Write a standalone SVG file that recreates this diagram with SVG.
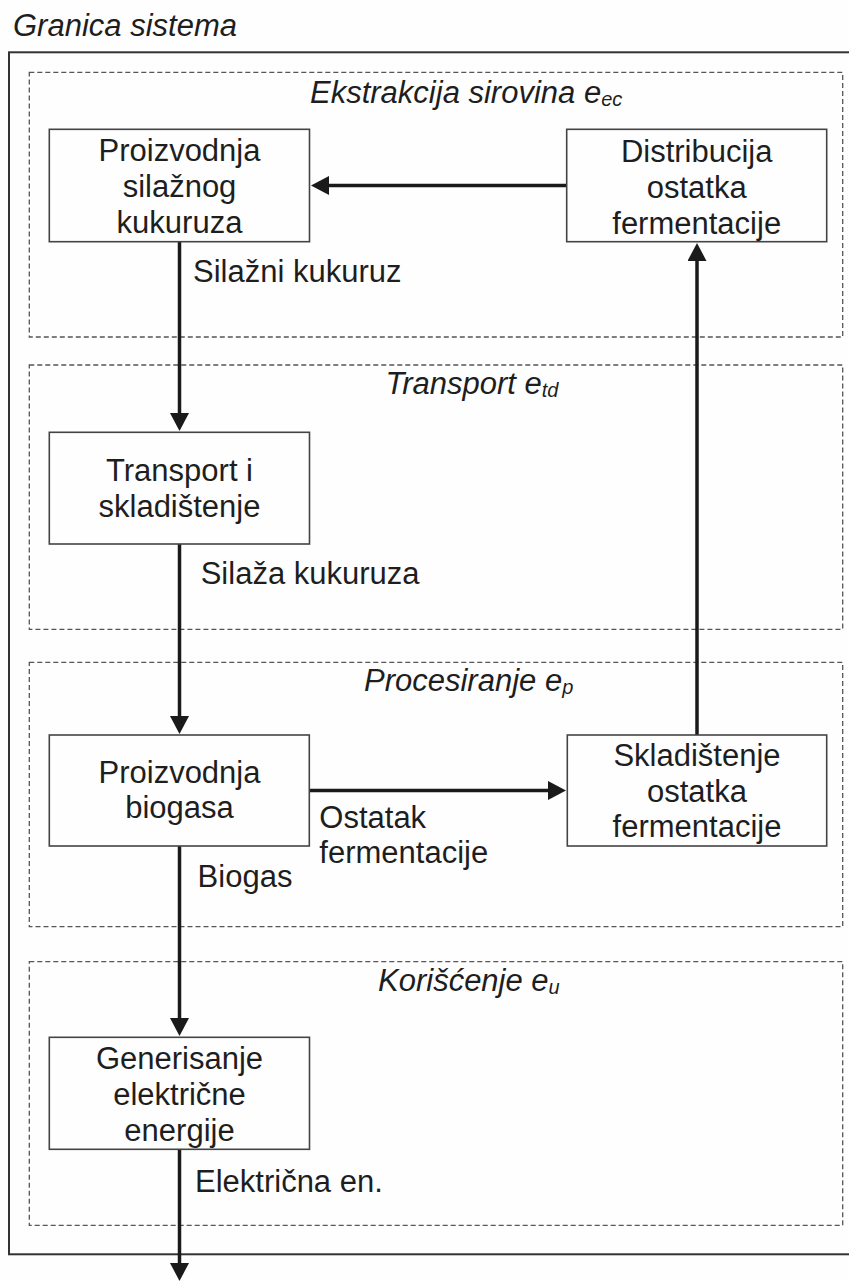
<svg xmlns="http://www.w3.org/2000/svg" width="849" height="1281" viewBox="0 0 849 1281">
  <style>
    .bg { fill: #fefefe; }
    .boundary { fill: none; stroke: #333; stroke-width: 2; }
    .phase { fill: none; stroke: #555; stroke-width: 1.3; stroke-dasharray: 5 3; }
    .box { fill: #fefefe; stroke: #444; stroke-width: 1.6; }
    .flow { fill: none; stroke: #1a1a1a; stroke-width: 3.5; }
    text { font-family: "Liberation Sans", Arial, sans-serif; font-size: 31px; fill: #1e1e1e; }
    .node-text { text-anchor: middle; }
    .phase-title { font-style: italic; }
    .sub { font-size: 20px; }
  </style>
  <defs>
    <marker id="arrow" markerUnits="userSpaceOnUse" markerWidth="19" markerHeight="19"
            viewBox="0 0 19 19" refX="1" refY="9.5" orient="auto">
      <path d="M0,0 L18,9.5 L0,19 Z" fill="#1a1a1a"/>
    </marker>
  </defs>

  <rect class="bg" x="0" y="0" width="849" height="1281"/>

  <!-- system boundary -->
  <g id="system-boundary">
    <text class="phase-title" x="13" y="36">Granica sistema</text>
    <rect class="boundary" x="9" y="52.3" width="860" height="1202"/>
  </g>

  <!-- life-cycle phases -->
  <g id="phase-extraction">
    <rect class="phase" x="29.3" y="72.3" width="813.4" height="264.7"/>
    <text class="phase-title" x="310" y="103">Ekstrakcija sirovina e<tspan class="sub" dy="3">ec</tspan></text>
  </g>
  <g id="phase-transport">
    <rect class="phase" x="29.3" y="365" width="813.4" height="264.3"/>
    <text class="phase-title" x="385.5" y="394">Transport e<tspan class="sub" dy="3">td</tspan></text>
  </g>
  <g id="phase-processing">
    <rect class="phase" x="29.3" y="662.3" width="813.4" height="264.4"/>
    <text class="phase-title" x="364" y="691">Procesiranje e<tspan class="sub" dy="3">p</tspan></text>
  </g>
  <g id="phase-use">
    <rect class="phase" x="29.3" y="961.7" width="813.4" height="263.6"/>
    <text class="phase-title" x="378" y="991">Korišćenje e<tspan class="sub" dy="3">u</tspan></text>
  </g>

  <!-- connectors -->
  <g id="connectors">
    <line class="flow" x1="566.7" y1="185.5" x2="328" y2="185.5" marker-end="url(#arrow)"/>
    <line class="flow" x1="179.5" y1="241.7" x2="179.5" y2="414" marker-end="url(#arrow)"/>
    <line class="flow" x1="179.5" y1="544" x2="179.5" y2="717" marker-end="url(#arrow)"/>
    <line class="flow" x1="309.3" y1="790.5" x2="549" y2="790.5" marker-end="url(#arrow)"/>
    <line class="flow" x1="697" y1="735" x2="697" y2="260" marker-end="url(#arrow)"/>
    <line class="flow" x1="179.5" y1="846" x2="179.5" y2="1019" marker-end="url(#arrow)"/>
    <line class="flow" x1="179.5" y1="1149.3" x2="179.5" y2="1264" marker-end="url(#arrow)"/>
    <text x="193" y="282">Silažni kukuruz</text>
    <text x="200.7" y="584">Silaža kukuruza</text>
    <text x="319.3" y="827.7">Ostatak</text>
    <text x="319.3" y="863.3">fermentacije</text>
    <text x="197.6" y="886.7">Biogas</text>
    <text x="195" y="1192.3">Električna en.</text>
  </g>

  <!-- process nodes -->
  <g id="node-corn-production">
    <rect class="box" x="49.3" y="129.3" width="260.2" height="112.4"/>
    <text class="node-text" x="179.5" y="161"><tspan x="179.5">Proizvodnja</tspan><tspan x="179.5" dy="36">silažnog</tspan><tspan x="179.5" dy="36">kukuruza</tspan></text>
  </g>
  <g id="node-digestate-distribution">
    <rect class="box" x="566.7" y="129.3" width="260" height="112.4"/>
    <text class="node-text" x="696.7" y="161.5"><tspan x="696.7">Distribucija</tspan><tspan x="696.7" dy="36">ostatka</tspan><tspan x="696.7" dy="36">fermentacije</tspan></text>
  </g>
  <g id="node-transport-storage">
    <rect class="box" x="49.3" y="432.3" width="260.2" height="111.7"/>
    <text class="node-text" x="179.5" y="480.7"><tspan x="179.5">Transport i</tspan><tspan x="179.5" dy="36">skladištenje</tspan></text>
  </g>
  <g id="node-biogas-production">
    <rect class="box" x="49.3" y="735" width="260" height="111"/>
    <text class="node-text" x="179.5" y="782.7"><tspan x="179.5">Proizvodnja</tspan><tspan x="179.5" dy="35.6">biogasa</tspan></text>
  </g>
  <g id="node-digestate-storage">
    <rect class="box" x="567.3" y="735" width="259.4" height="111"/>
    <text class="node-text" x="697" y="766"><tspan x="697">Skladištenje</tspan><tspan x="697" dy="35.5">ostatka</tspan><tspan x="697" dy="35.5">fermentacije</tspan></text>
  </g>
  <g id="node-power-generation">
    <rect class="box" x="49.3" y="1037.3" width="260.2" height="112"/>
    <text class="node-text" x="179.5" y="1069"><tspan x="179.5">Generisanje</tspan><tspan x="179.5" dy="36">električne</tspan><tspan x="179.5" dy="35.5">energije</tspan></text>
  </g>
</svg>
